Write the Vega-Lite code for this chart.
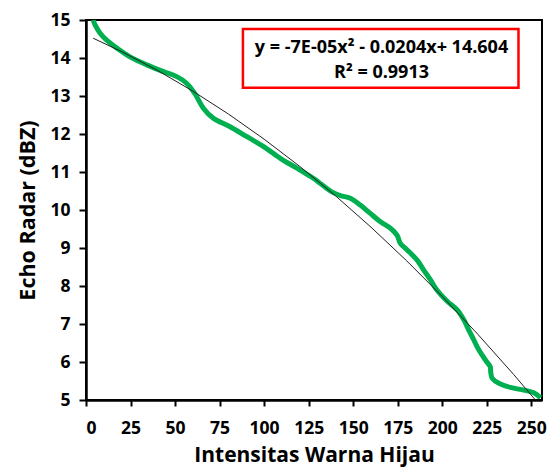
{
  "$schema": "https://vega.github.io/schema/vega-lite/v6.json",
  "autosize": {"type": "none"},
  "width": 456,
  "height": 380,
  "padding": {"left": 86, "top": 20, "right": 13, "bottom": 73},
  "background": "white",
  "config": {
    "view": {"stroke": "black", "strokeWidth": 2},
    "font": "Open Sans",
    "axis": {
      "grid": false,
      "domainColor": "black",
      "domainWidth": 2.5,
      "tickColor": "black",
      "tickWidth": 2,
      "labelFont": "Open Sans",
      "labelFontWeight": "bold",
      "labelFontSize": 17.5,
      "labelColor": "black",
      "labelOverlap": false,
      "titleFont": "Open Sans",
      "titleFontWeight": "bold",
      "titleColor": "black"
    }
  },
  "datasets": {
    "green": [
      {"g": 4.1, "e": 15.0},
      {"g": 5.1, "e": 14.87},
      {"g": 7.9, "e": 14.65},
      {"g": 11.6, "e": 14.47},
      {"g": 17.3, "e": 14.26},
      {"g": 24.7, "e": 14.03},
      {"g": 34.1, "e": 13.82},
      {"g": 43.5, "e": 13.64},
      {"g": 51.0, "e": 13.51},
      {"g": 56.6, "e": 13.33},
      {"g": 61.3, "e": 13.05},
      {"g": 65.9, "e": 12.68},
      {"g": 71.6, "e": 12.41},
      {"g": 80.9, "e": 12.19},
      {"g": 90.3, "e": 11.93},
      {"g": 99.7, "e": 11.67},
      {"g": 109.1, "e": 11.36},
      {"g": 118.4, "e": 11.1},
      {"g": 127.8, "e": 10.83},
      {"g": 137.2, "e": 10.5},
      {"g": 142.8, "e": 10.38},
      {"g": 148.4, "e": 10.31},
      {"g": 154.0, "e": 10.13},
      {"g": 159.6, "e": 9.91},
      {"g": 165.3, "e": 9.69},
      {"g": 170.9, "e": 9.52},
      {"g": 174.6, "e": 9.34},
      {"g": 176.5, "e": 9.12},
      {"g": 180.3, "e": 8.95},
      {"g": 185.9, "e": 8.68},
      {"g": 189.6, "e": 8.42},
      {"g": 193.4, "e": 8.16},
      {"g": 197.1, "e": 7.89},
      {"g": 202.8, "e": 7.6},
      {"g": 208.4, "e": 7.37},
      {"g": 212.1, "e": 7.11},
      {"g": 214.9, "e": 6.84},
      {"g": 217.7, "e": 6.58},
      {"g": 220.5, "e": 6.32},
      {"g": 224.3, "e": 6.05},
      {"g": 226.9, "e": 5.88},
      {"g": 227.2, "e": 5.74},
      {"g": 228.1, "e": 5.57},
      {"g": 231.8, "e": 5.44},
      {"g": 238.3, "e": 5.33},
      {"g": 245.8, "e": 5.26},
      {"g": 251.4, "e": 5.19},
      {"g": 255.2, "e": 5.06}
    ],
    "trend": [
      {"g": 4, "e": 14.521},
      {"g": 20, "e": 14.168},
      {"g": 40, "e": 13.676},
      {"g": 60, "e": 13.128},
      {"g": 80, "e": 12.524},
      {"g": 100, "e": 11.864},
      {"g": 120, "e": 11.148},
      {"g": 140, "e": 10.376},
      {"g": 160, "e": 9.548},
      {"g": 180, "e": 8.664},
      {"g": 200, "e": 7.724},
      {"g": 220, "e": 6.728},
      {"g": 240, "e": 5.676},
      {"g": 252.3, "e": 5.0}
    ],
    "box": [
      {"x1": 88.1, "x2": 242.8, "y1": 14.76, "y2": 13.22}
    ],
    "eq": [
      {"cx": 165.9, "cy": 14.276, "label": "y = -7E-05x² - 0.0204x+ 14.604"},
      {"cx": 165.9, "cy": 13.618, "label": "R² = 0.9913"}
    ]
  },
  "layer": [
    {
      "data": {"name": "green"},
      "mark": {"type": "line", "color": "#00B050", "strokeWidth": 5, "interpolate": "cardinal", "clip": true},
      "encoding": {
        "x": {
          "field": "g", "type": "quantitative",
          "scale": {"domain": [0, 256], "nice": false},
          "axis": {
            "values": [0, 25, 50, 75, 100, 125, 150, 175, 200, 225, 250],
            "tickSize": 6, "labelPadding": 13,
            "title": "Intensitas Warna Hijau", "titleFontSize": 21, "titlePadding": 8
          }
        },
        "y": {
          "field": "e", "type": "quantitative",
          "scale": {"domain": [5, 15], "nice": false},
          "axis": {
            "values": [5, 6, 7, 8, 9, 10, 11, 12, 13, 14, 15],
            "tickSize": 7, "labelPadding": 9,
            "title": "Echo Radar (dBZ)", "titleFontSize": 21.5, "titlePadding": 10
          }
        }
      }
    },
    {
      "data": {"name": "trend"},
      "mark": {"type": "line", "color": "#222222", "strokeWidth": 1, "clip": true},
      "encoding": {
        "x": {"field": "g", "type": "quantitative"},
        "y": {
          "field": "e", "type": "quantitative",
          "axis": {"values": [5, 6, 7, 8, 9, 10, 11, 12, 13, 14, 15]}
        }
      }
    },
    {
      "data": {"name": "box"},
      "mark": {"type": "rect", "fill": "white", "stroke": "#FF0000", "strokeWidth": 2.5},
      "encoding": {
        "x": {"field": "x1", "type": "quantitative"},
        "x2": {"field": "x2"},
        "y": {
          "field": "y1", "type": "quantitative",
          "axis": {"values": [5, 6, 7, 8, 9, 10, 11, 12, 13, 14, 15]}
        },
        "y2": {"field": "y2"}
      }
    },
    {
      "data": {"name": "eq"},
      "mark": {"type": "text", "font": "Open Sans", "fontWeight": "bold", "fontSize": 18, "color": "black", "align": "center", "baseline": "middle"},
      "encoding": {
        "x": {"field": "cx", "type": "quantitative"},
        "y": {
          "field": "cy", "type": "quantitative",
          "axis": {"values": [5, 6, 7, 8, 9, 10, 11, 12, 13, 14, 15]}
        },
        "text": {"field": "label"}
      }
    }
  ]
}
